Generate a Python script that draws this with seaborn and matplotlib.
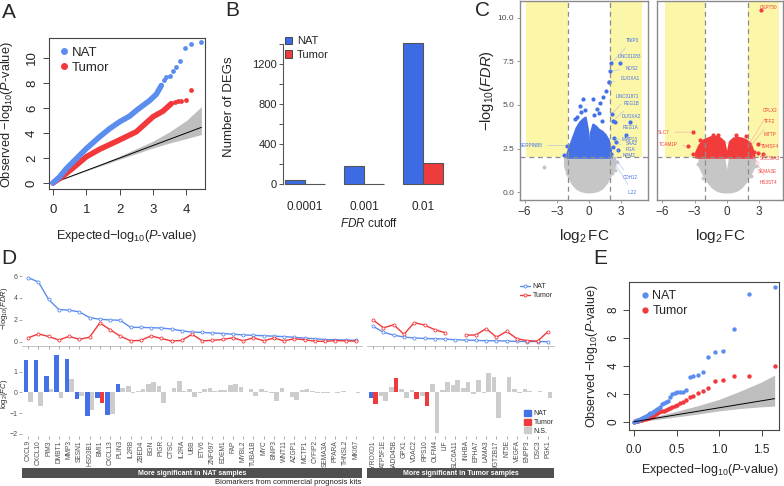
import numpy as np
import pandas as pd
import seaborn as sns
import matplotlib.pyplot as plt
from matplotlib.lines import Line2D
from matplotlib.patches import Patch

# ---------------- data ----------------
# A: genome-wide QQ (dense part of each curve + sparse tail points)
qa_nat_x = [0, 0.2, 0.4, 0.7, 1.0, 1.4, 1.7, 2.0, 2.3, 2.5, 2.7, 2.9, 3.1, 3.25]
qa_nat_y = [0, 0.5, 1.15, 1.95, 2.75, 3.7, 4.35, 4.9, 5.35, 5.8, 6.2, 6.6, 7.1, 7.8]
qa_nat_tail_x = [3.33, 3.4, 3.5, 3.6, 3.7, 3.8, 3.95, 4.13, 4.43]
qa_nat_tail_y = [8.2, 8.45, 8.56, 8.99, 9.31, 9.76, 10.77, 11.12, 11.28]
qa_tum_x = [0, 0.3, 0.6, 1.0, 1.4, 1.8, 2.0, 2.5, 3.0, 3.3, 3.55]
qa_tum_y = [0, 0.55, 1.2, 2.1, 2.7, 3.2, 3.45, 4.1, 5.3, 5.75, 6.35]
qa_tum_tail_x = [3.65, 3.75, 3.85, 3.98, 4.13]
qa_tum_tail_y = [6.45, 6.52, 6.57, 6.62, 7.41]
qa_band_x = [0, 1, 2, 3, 3.5, 4, 4.45]
qa_band_lo = [0, 0.97, 1.9, 2.8, 3.2, 3.55, 3.88]
qa_band_hi = [0, 1.05, 2.15, 3.35, 4.1, 5.0, 6.1]

# B: number of DEGs
cutoffs = ['0.0001', '0.001', '0.01']
deg_nat = [37, 177, 1413]
deg_tumor = [2, 1, 213]

# C: volcano plots (dense cores as envelopes, plus individual points)
c_gray_l_x = [-2.3, -2.0, -1.6, -1.2, -0.8, -0.4, 0.0, 0.4, 0.8, 1.2, 1.6, 2.0, 2.4]
c_gray_l_lo = [1.5, 0.95, 0.5, 0.22, 0.08, 0.02, 0.0, 0.02, 0.08, 0.22, 0.5, 0.95, 1.5]
c_gray_l_hi = [2.0, 2.0, 2.0, 2.0, 2.0, 2.0, 2.0, 2.0, 2.0, 2.0, 2.0, 2.0, 2.0]
c_blue_neg_x = [-2.05, -1.8, -1.5, -1.2, -0.9, -0.6, -0.35, -0.12, -0.03]
c_blue_neg_hi = [2.25, 2.7, 3.2, 3.7, 4.0, 4.2, 4.3, 3.5, 2.7]
c_blue_pos_x = [0.03, 0.12, 0.35, 0.6, 0.9, 1.2, 1.5, 1.8, 2.0]
c_blue_pos_hi = [2.7, 3.4, 3.9, 3.8, 3.6, 3.5, 3.3, 3.0, 2.4]
c_blue_pts_x = [-0.59, 0.34, 1.02, 1.57, 1.33, 0.77, 0.96, -0.84, -1.09, -0.34, -1.3, 0.5,
                -1.76, -1.6, 1.2, -0.7, -2.3, 2.2, 1.88]
c_blue_pts_y = [5.36, 5.32, 5.13, 5.82, 5.44, 4.75, 4.52, 4.94, 4.33, 4.7, 4.2, 4.4,
                2.24, 2.15, 4.1, 4.6, 2.1, 2.6, 6.3]
c_gray_l_pts_x = [-4.2, -2.08, -1.61, 2.12, 2.43, 2.6]
c_gray_l_pts_y = [1.45, 1.12, 0.74, 1.12, 1.27, 1.7]
c_nat_genes = ['TNIP3', 'LINC01283', 'NOS2', 'DUOXA1', 'LINC01871', 'REG1B', 'DUOXA2',
               'REG1A', 'MMP13', 'SAA2', 'FGA', 'NPM2', 'CDH12', 'IL22', 'SERPINB8']
c_nat_fc = [2.09, 2.93, 1.96, 1.88, 2.1, 2.25, 2.45, 3.8, 3.4, 2.3, 2.55, 2.7, 2.05, 1.95, -2.07]
c_nat_fdr = [7.4, 7.4, 6.95, 6.3, 4.45, 4.1, 4.0, 4.0, 3.3, 3.1, 2.85, 2.4, 2.2, 2.1, 2.66]
c_nat_lab_x = [4.06, 3.8, 3.96, 3.8, 3.6, 3.96, 3.96, 3.9, 3.8, 4.0, 3.9, 3.7, 3.8, 4.06, -5.4]
c_nat_lab_y = [8.7, 7.75, 7.08, 6.5, 5.47, 5.05, 4.33, 3.7, 3.0, 2.8, 2.44, 2.1, 0.83, 0.0, 2.66]

c_gray_r_neg_x = [-2.6, -2.2, -1.8, -1.4, -1.0, -0.6, -0.25, -0.05]
c_gray_r_neg_lo = [1.5, 1.0, 0.6, 0.3, 0.12, 0.03, 0.0, 0.0]
c_gray_r_neg_hi = [2.0, 2.0, 2.0, 2.0, 2.0, 2.0, 2.0, 1.2]
c_gray_r_pos_x = [0.05, 0.25, 0.6, 1.0, 1.4, 1.8, 2.2, 2.6]
c_gray_r_pos_lo = [0.0, 0.0, 0.03, 0.12, 0.3, 0.6, 1.0, 1.5]
c_gray_r_pos_hi = [1.2, 2.0, 2.0, 2.0, 2.0, 2.0, 2.0, 2.0]
c_red_neg_x = [-2.9, -2.6, -2.2, -1.8, -1.4, -1.0, -0.6, -0.25, -0.05]
c_red_neg_hi = [2.3, 2.7, 3.0, 3.1, 3.2, 3.2, 3.1, 2.9, 2.25]
c_red_pos_x = [0.05, 0.25, 0.6, 1.0, 1.4, 1.8, 2.2, 2.5]
c_red_pos_hi = [2.25, 2.9, 3.1, 3.15, 3.1, 3.0, 2.8, 2.3]
c_red_pts_x = [-3.1, -2.5, -1.3, 1.8, 2.6, -0.8, 0.9]
c_red_pts_y = [2.2, 3.0, 3.3, 3.2, 2.3, 3.25, 3.25]
c_gray_r_pts_x = [-2.7, 2.7, -2.2, 2.3]
c_gray_r_pts_y = [1.6, 1.5, 0.8, 0.9]
c_tum_genes = ['CKPT50', 'SLC7', 'TCAM1P', 'CPLX2', 'TFF2', 'MTTP', 'TM4SF4', 'SLC38A3',
               'SEMA3E', 'HS3ST4']
c_tum_fc = [3.18, -3.18, -3.59, 2.1, 2.2, 2.96, 2.96, 3.37, 2.3, 2.45]
c_tum_fdr = [10.45, 3.44, 2.63, 2.75, 2.6, 2.78, 2.25, 2.21, 2.1, 2.05]
c_tum_lab_x = [3.95, -5.9, -5.5, 4.05, 4.05, 4.05, 4.05, 4.05, 3.8, 3.95]
c_tum_lab_y = [10.6, 3.44, 2.75, 4.68, 4.03, 3.29, 2.63, 1.91, 1.21, 0.55]

# D: biomarkers
nat_genes = ['CXCL9', 'CXCL10', 'PIM3', 'DMBT1', 'MMP3', 'SESN1', 'HSD3B1', 'BMI1', 'CXCL13',
             'PLIN3', 'IL2RB', 'ZBED4', 'BGN', 'PIGR', 'CTSC', 'IL2RA', 'UBB', 'ETV6', 'ZNF697',
             'EDEM1', 'FAP', 'MYBL2', 'TUBA1B', 'MYC', 'BNIP3', 'WNT11', 'AZGP1', 'MCTP1',
             'CYFIP2', 'SEMA3A', 'PPARA', 'THNSL2', 'MKI67']
nat_fdr_nat = [5.85, 5.46, 3.86, 2.94, 2.88, 2.73, 2.2, 2.05, 1.99, 1.96, 1.31, 1.31, 1.28, 1.25,
               1.16, 1.0, 0.88, 0.85, 0.8, 0.75, 0.69, 0.62, 0.58, 0.55, 0.5, 0.47, 0.4, 0.33,
               0.28, 0.2, 0.18, 0.16, 0.13]
nat_fdr_tum = [0.36, 0.71, 0.48, 0.15, 0.5, 0.21, 0.42, 1.72, 1.1, 0.5, 0.09, 0.12, 0.53, 0.3,
               0.06, 0.12, 0.68, 0.09, 0.12, 0.21, 0.36, 0.09, 0.36, 0.09, 0.33, 0.09, 0.27,
               0.18, 0.05, 0.03, 0.1, 0.08, 0.05]
nat_fc_nat = [1.55, 1.55, 0.79, 1.78, 1.6, -0.34, -1.12, -0.29, -1.09, 0.38, 0.3, 0.05, 0.38,
              0.3, 0.02, 0.54, 0.16, -0.05, 0.19, 0.11, 0.34, 0.27, 0.16, 0.14, -0.02, 0.19,
              -0.21, 0.11, 0.05, -0.03, 0.02, 0.08, 0.02]
nat_fc_tum = [-0.45, -0.64, 0.18, -0.29, 0.66, -0.16, -0.85, -0.5, -1.06, 0.19, -0.05, 0.17,
              0.48, -0.53, 0.19, 0.08, -0.21, 0.14, 0.05, 0.11, 0.38, 0.02, -0.16, 0.06, -0.4,
              0.0, -0.37, 0.16, -0.03, -0.02, -0.03, 0.03, -0.02]
nat_sig_nat = [True] * 10 + [False] * 23
nat_sig_tum = [False] * 7 + [True] + [False] * 25

tum_genes = ['PYROXD1', 'ATP5F1E', 'GADD45B', 'GPX1', 'VDAC2', 'RPS10', 'OLFM4', 'LIF',
             'SLC6A11', 'INHBA', 'EPHA7', 'LAMA3', 'UGT2B17', 'NT5E', 'VEGFA', 'ENPP3', 'DSC3',
             'PGK1']
tum_fdr_nat = [1.4, 0.87, 0.6, 0.43, 0.34, 0.3, 0.27, 0.24, 0.18, 0.15, 0.12, 0.09, 0.09, 0.06,
               0.03, 0.02, 0.02, 0.0]
tum_fdr_tum = [1.99, 1.27, 1.55, 0.68, 1.75, 1.52, 1.1, 0.83, np.nan, 0.6, 0.62, 1.2, 0.41,
               0.95, 0.27, 0.1, 0.05, 0.92]
tum_fc_nat = [-0.26, -0.16, 0.26, 0.14, 0.1, -0.16, 0.4, 0.1, 0.34, 0.19, -0.08, -0.05, 0.72,
              0.03, 0.16, 0.14, 0.03, 0.0]
tum_fc_tum = [-0.55, -0.4, 0.69, -0.27, -0.34, -0.64, -1.97, 0.5, 0.59, 0.51, 0.59, 0.91, -1.25,
              0.72, -0.03, 0.06, 0.08, -0.29]
tum_sig_nat = [True] + [False] * 17
tum_sig_tum = [True, False, True, False, True, True] + [False] * 12

# E: QQ of biomarker genes
qe_x = [1.653, 1.352, 1.176, 1.051, 0.954, 0.875, 0.808, 0.750, 0.699, 0.653, 0.612, 0.574,
        0.540, 0.508, 0.477, 0.449, 0.423, 0.398, 0.374, 0.352, 0.331, 0.311, 0.292, 0.273,
        0.255, 0.238, 0.222, 0.206, 0.191, 0.176, 0.162, 0.148, 0.135, 0.121, 0.109, 0.097,
        0.085, 0.073, 0.062, 0.051, 0.040, 0.030, 0.020, 0.010, 0.000]
qe_nat = [9.62, 9.12, 6.66, 5.08, 4.96, 4.65, 3.56, 3.32, 3.29, 3.17, 2.27, 2.12, 2.10, 2.10,
          2.08, 1.98, 1.75, 1.5, 1.38, 1.31, 1.26, 1.07, 0.95, 0.88, 0.84, 0.76, 0.69, 0.64,
          0.60, 0.55, 0.50, 0.43, 0.38, 0.33, 0.29, 0.25, 0.21, 0.18, 0.15, 0.12, 0.09, 0.07,
          0.05, 0.03, 0.01]
qe_tum = [3.96, 3.29, 3.29, 2.96, 2.91, 2.39, 2.22, 2.08, 1.86, 1.79, 1.55, 1.43, 1.31, 1.19,
          1.15, 1.07, 0.98, 0.88, 0.81, 0.77, 0.76, 0.74, 0.69, 0.6, 0.52, 0.45, 0.41, 0.36,
          0.33, 0.3, 0.27, 0.24, 0.22, 0.2, 0.18, 0.16, 0.14, 0.12, 0.1, 0.08, 0.06, 0.04,
          0.03, 0.02, 0.01]
qe_band_x = [0, 0.25, 0.5, 0.75, 1.0, 1.25, 1.5, 1.653]
qe_band_lo = [0, 0.15, 0.35, 0.55, 0.78, 0.95, 1.07, 1.12]
qe_band_hi = [0.02, 0.38, 0.75, 1.15, 1.6, 2.2, 2.85, 3.34]

# ---------------- style ----------------
sns.set_theme(style='ticks')
plt.rcParams['font.family'] = ['Liberation Sans', 'DejaVu Sans']
plt.rcParams['mathtext.fontset'] = 'custom'
plt.rcParams['mathtext.rm'] = 'Liberation Sans'
plt.rcParams['mathtext.it'] = 'Liberation Sans:italic'
plt.rcParams['mathtext.bf'] = 'Liberation Sans:bold'

QQ_BLUE = '#5B8DEF'
QQ_RED = '#F2383A'
BAR_BLUE = '#3D6BE5'
BAR_RED = '#EE3B3B'
V_BLUE = '#4470E8'
V_RED = '#F23C3C'
V_GRAY = '#C6C6C6'
YELLOW = '#FBF6A8'
NS_GRAY = '#CCCCCC'

W, H = 784, 486
fig = plt.figure(figsize=(W / 100, H / 100), dpi=100)


def px_axes(x0, y0, x1, y1):
    return fig.add_axes([x0 / W, 1 - y1 / H, (x1 - x0) / W, (y1 - y0) / H])


def r_box(ax):
    for s in ax.spines.values():
        s.set_visible(True)
        s.set_color('#444444')
        s.set_linewidth(0.8)


for lab, (x, y) in zip('ABCDE', [(9, 13), (232, 11), (483, 11), (9, 259), (600, 258)]):
    fig.text(x / W, 1 - y / H, lab, fontsize=15, ha='center', va='center')

# ---------------- A ----------------
axA = px_axes(49, 38, 205, 189)
axA.fill_between(qa_band_x, qa_band_lo, qa_band_hi, color='#BEBEBE', lw=0)
axA.plot(qa_band_x, qa_band_x, color='black', lw=0.7)
sns.lineplot(x=qa_tum_x, y=qa_tum_y, ax=axA, color=QQ_RED, lw=4, estimator=None, sort=False)
sns.scatterplot(x=qa_tum_tail_x, y=qa_tum_tail_y, ax=axA, color=QQ_RED, s=12, linewidth=0)
sns.lineplot(x=qa_nat_x, y=qa_nat_y, ax=axA, color=QQ_BLUE, lw=4, estimator=None, sort=False)
sns.scatterplot(x=qa_nat_tail_x, y=qa_nat_tail_y, ax=axA, color=QQ_BLUE, s=12, linewidth=0)
axA.set_xlim(-0.12, 4.56)
axA.set_ylim(-0.48, 11.6)
axA.set_xticks([0, 1, 2, 3, 4])
axA.set_yticks([0, 2, 4, 6, 8, 10])
r_box(axA)
axA.tick_params(length=4, width=0.7, labelsize=9.5, color='#444444')
axA.tick_params(axis='x', pad=7)
axA.tick_params(axis='y', labelrotation=90, pad=4)
for t in axA.get_yticklabels():
    t.set_va('center')
axA.set_xlabel(r'Expected$-$log$_{10}$($\mathit{P}$-value)', fontsize=9.2)
axA.xaxis.set_label_coords(0.5, -0.26)
axA.set_ylabel(r'Observed $-$log$_{10}$($\mathit{P}$-value)', fontsize=9.2)
axA.yaxis.set_label_coords(-0.22, 0.49)
axA.legend(handles=[Line2D([], [], ls='', marker='o', ms=4, color=QQ_BLUE, label='NAT'),
                    Line2D([], [], ls='', marker='o', ms=4, color=QQ_RED, label='Tumor')],
           loc='upper left', bbox_to_anchor=(0.02, 0.98), frameon=False, fontsize=9.5,
           handletextpad=0.1, handlelength=1.0, labelspacing=0.25, borderaxespad=0)

# ---------------- B ----------------
axB = px_axes(283, 30, 455, 190)
df_b = pd.DataFrame({'cutoff': cutoffs * 2,
                     'group': ['NAT'] * 3 + ['Tumor'] * 3,
                     'n': deg_nat + deg_tumor})
sns.barplot(data=df_b, x='cutoff', y='n', hue='group', order=cutoffs, hue_order=['NAT', 'Tumor'],
            palette={'NAT': BAR_BLUE, 'Tumor': BAR_RED}, width=0.68, saturation=1,
            edgecolor='#555555', linewidth=0.8, legend=False, ax=axB)
axB.set_xlim(-0.373, 2.54)
axB.set_ylim(-60, 1540)
sns.despine(ax=axB, bottom=True)
axB.spines['left'].set_bounds(0, 1400)
axB.spines['left'].set_color('#555555')
axB.spines['left'].set_linewidth(0.8)
axB.set_yticks([0, 400, 800, 1200])
axB.set_yticks([200, 600, 1000, 1400], minor=True)
axB.tick_params(axis='y', which='both', length=3, width=0.7, labelsize=8, pad=1.5, color='#555555')
axB.tick_params(axis='x', length=0, labelsize=8.5, pad=8)
axB.set_xlabel(r'$\mathit{FDR}$ cutoff', fontsize=8.5)
axB.xaxis.set_label_coords(0.5, -0.17)
axB.set_ylabel('Number of DEGs', fontsize=9.5)
axB.yaxis.set_label_coords(-0.28, 0.52)
axB.legend(handles=[Patch(facecolor=BAR_BLUE, edgecolor='#333333', lw=0.6, label='NAT'),
                    Patch(facecolor=BAR_RED, edgecolor='#333333', lw=0.6, label='Tumor')],
           loc='upper left', bbox_to_anchor=(0.01, 0.96), frameon=False, fontsize=8,
           handlelength=0.7, handleheight=0.7, handletextpad=0.4, labelspacing=0.3,
           borderaxespad=0, borderpad=0)

# ---------------- C ----------------
FC_CUT, FDR_CUT = 2, 2


def volcano_base(ax, xlim, xspan):
    ax.set_xlim(*xlim)
    ax.set_ylim(-0.45, 10.95)
    ax.fill_between([xspan[0], -FC_CUT], FDR_CUT, 12, color=YELLOW, lw=0, zorder=0)
    ax.fill_between([FC_CUT, xspan[1]], FDR_CUT, 12, color=YELLOW, lw=0, zorder=0)
    for v in (-FC_CUT, FC_CUT):
        ax.axvline(v, color='#8C8C8C', ls=(0, (4, 3)), lw=0.9, zorder=5)
    ax.axhline(FDR_CUT, color='#8C8C8C', ls=(0, (4, 3)), lw=0.9, zorder=5)
    for s in ax.spines.values():
        s.set_visible(True)
        s.set_color('#8A8A8A')
        s.set_linewidth(1.0)
    ax.set_xticks([-6, -3, 0, 3])
    ax.tick_params(axis='x', length=2.5, width=0.6, color='#8A8A8A', labelsize=8.5,
                   labelcolor='#333333', pad=2)
    ax.set_xlabel(r'log$_2\,$FC', fontsize=11)
    ax.xaxis.set_label_coords(0.5, -0.135)


def label_points(ax, names, px, py, lx, ly, color, lcolor):
    for n, a, b, c, d in zip(names, px, py, lx, ly):
        ax.annotate(n, xy=(a, b), xytext=(c, d), fontsize=3.3, color=color,
                    ha='center', va='center', zorder=7,
                    arrowprops=dict(arrowstyle='-', color=lcolor, lw=0.35, shrinkA=1.5, shrinkB=1))


axCL = px_axes(520, 1, 648, 200)
volcano_base(axCL, (-6.42, 5.49), (-5.85, 4.95))
axCL.fill_between(c_gray_l_x, c_gray_l_lo, c_gray_l_hi, color=V_GRAY, lw=1.2, ec=V_GRAY, zorder=2)
sns.scatterplot(x=c_gray_l_pts_x, y=c_gray_l_pts_y, ax=axCL, color=V_GRAY, s=8, linewidth=0, zorder=2)
axCL.fill_between(c_blue_neg_x, FDR_CUT, c_blue_neg_hi, color=V_BLUE, lw=1.5, ec=V_BLUE, zorder=3)
axCL.fill_between(c_blue_pos_x, FDR_CUT, c_blue_pos_hi, color=V_BLUE, lw=1.5, ec=V_BLUE, zorder=3)
sns.scatterplot(x=c_blue_pts_x + c_nat_fc, y=c_blue_pts_y + c_nat_fdr, ax=axCL, color=V_BLUE,
                s=9, linewidth=0, zorder=4)
label_points(axCL, c_nat_genes, c_nat_fc, c_nat_fdr, c_nat_lab_x, c_nat_lab_y, V_BLUE, '#9DB4F2')
axCL.set_yticks([0, 2.5, 5, 7.5, 10])
axCL.set_yticklabels(['0.0', '2.5', '5.0', '7.5', '10.0'])
axCL.tick_params(axis='y', length=2.5, width=0.6, color='#8A8A8A', labelsize=6,
                 labelcolor='#4D4D4D', pad=1.5)
axCL.set_ylabel(r'$-$log$_{10}$($\mathit{FDR}$)', fontsize=10.5)
axCL.yaxis.set_label_coords(-0.19, 0.55)

axCR = px_axes(657, 1, 783, 200)
volcano_base(axCR, (-6.51, 5.27), (-5.8, 4.85))
axCR.fill_between(c_gray_r_neg_x, c_gray_r_neg_lo, c_gray_r_neg_hi, color=V_GRAY, lw=1.2,
                  ec=V_GRAY, zorder=2)
axCR.fill_between(c_gray_r_pos_x, c_gray_r_pos_lo, c_gray_r_pos_hi, color=V_GRAY, lw=1.2,
                  ec=V_GRAY, zorder=2)
sns.scatterplot(x=c_gray_r_pts_x, y=c_gray_r_pts_y, ax=axCR, color=V_GRAY, s=8, linewidth=0, zorder=2)
axCR.fill_between(c_red_neg_x, FDR_CUT, c_red_neg_hi, color=V_RED, lw=1.5, ec=V_RED, zorder=3)
axCR.fill_between(c_red_pos_x, FDR_CUT, c_red_pos_hi, color=V_RED, lw=1.5, ec=V_RED, zorder=3)
sns.scatterplot(x=c_red_pts_x + c_tum_fc, y=c_red_pts_y + c_tum_fdr, ax=axCR, color=V_RED,
                s=9, linewidth=0, zorder=4)
label_points(axCR, c_tum_genes, c_tum_fc, c_tum_fdr, c_tum_lab_x, c_tum_lab_y, V_RED, '#F5A0A0')
axCR.set_yticks([])

# ---------------- D ----------------
D_TOP = (270, 346)
D_BOT = (352, 436)
D_STRIP = (468, 478)
sections = [
    (22, 362, nat_genes, nat_fdr_nat, nat_fdr_tum, nat_fc_nat, nat_fc_tum, nat_sig_nat,
     nat_sig_tum, 'More significant in NAT samples', True),
    (367, 554, tum_genes, tum_fdr_nat, tum_fdr_tum, tum_fc_nat, tum_fc_tum, tum_sig_nat,
     tum_sig_tum, 'More significant in Tumor samples', False),
]
for (x0, x1, genes, f_nat, f_tum, fc_nat, fc_tum, s_nat, s_tum, strip, first) in sections:
    idx = np.arange(len(genes))
    xl = (-0.6, len(genes) - 0.4)

    axt = px_axes(x0, D_TOP[0], x1, D_TOP[1])
    axt.plot(idx, f_nat, color=QQ_BLUE, lw=1, marker='o', ms=2.2, mfc='white', mew=0.6)
    axt.plot(idx, f_tum, color=QQ_RED, lw=1, marker='o', ms=2.2, mfc='white', mew=0.6)
    axt.set_xlim(*xl)
    axt.set_ylim(-0.39, 6.55)
    axt.set_xticks(idx)
    axt.set_xticklabels([])
    for s in ['top', 'right', 'left']:
        axt.spines[s].set_visible(False)
    axt.spines['bottom'].set_color('#AAAAAA')
    axt.spines['bottom'].set_linewidth(0.5)
    axt.tick_params(axis='x', length=2, width=0.5, color='#888888')

    axb = px_axes(x0, D_BOT[0], x1, D_BOT[1])
    axb.bar(idx - 0.225, fc_nat, width=0.45,
            color=[V_BLUE if s else NS_GRAY for s in s_nat], lw=0)
    axb.bar(idx + 0.225, fc_tum, width=0.45,
            color=[BAR_RED if s else NS_GRAY for s in s_tum], lw=0)
    axb.set_xlim(*xl)
    axb.set_ylim(-2.1, 1.94)
    axb.set_xticks(idx)
    axb.set_xticklabels(genes, rotation=90, fontsize=4.8, color='#4D4D4D', va='top')
    for s in axb.spines.values():
        s.set_visible(False)
    axb.tick_params(axis='x', length=2, width=0.5, color='#888888', pad=1)

    if first:
        axt.set_yticks([0, 2, 4, 6])
        axt.tick_params(axis='y', length=2, width=0.5, color='#888888', labelsize=5,
                        labelcolor='#4D4D4D', pad=1)
        axt.set_ylabel(r'$-$log$_{10}$($\mathit{FDR}$)', fontsize=5.5)
        axt.yaxis.set_label_coords(-0.036, 0.5)
        axb.set_yticks([-2, -1, 0, 1])
        axb.tick_params(axis='y', length=2, width=0.5, color='#888888', labelsize=5,
                        labelcolor='#4D4D4D', pad=1)
        axb.set_ylabel(r'log$_2$($\mathit{FC}$)', fontsize=5.5)
        axb.yaxis.set_label_coords(-0.036, 0.5)
    else:
        axt.set_yticks([])
        axb.set_yticks([])

    axs = px_axes(x0, D_STRIP[0], x1, D_STRIP[1])
    axs.set_facecolor('#505050')
    for s in axs.spines.values():
        s.set_visible(False)
    axs.set_xticks([])
    axs.set_yticks([])
    axs.text(0.5, 0.5, strip, color='white', fontsize=5, fontweight='bold',
             ha='center', va='center', transform=axs.transAxes)

fig.text(288 / W, 1 - 482 / H, 'Biomarkers from commercial prognosis kits', fontsize=5.5,
         ha='center', va='center', color='#222222')
fig.legend(handles=[Line2D([], [], color=QQ_BLUE, lw=1, marker='o', ms=2.2, mfc='white',
                           mew=0.6, label='NAT'),
                    Line2D([], [], color=QQ_RED, lw=1, marker='o', ms=2.2, mfc='white',
                           mew=0.6, label='Tumor')],
           loc='upper left', bbox_to_anchor=(520 / W, 1 - 283 / H), frameon=False, fontsize=5,
           handlelength=1.4, handletextpad=0.4, labelspacing=0.3, borderpad=0, borderaxespad=0)
fig.legend(handles=[Patch(color=V_BLUE, label='NAT'), Patch(color=BAR_RED, label='Tumor'),
                    Patch(color=NS_GRAY, label='N.S.')],
           loc='upper left', bbox_to_anchor=(524 / W, 1 - 410 / H), frameon=False, fontsize=5,
           handlelength=1.0, handleheight=1.0, handletextpad=0.4, labelspacing=0.15,
           borderpad=0, borderaxespad=0)

# ---------------- E ----------------
axE = px_axes(629, 282, 779, 430)
axE.fill_between(qe_band_x, qe_band_lo, qe_band_hi, color='#BEBEBE', lw=0)
axE.plot(qe_band_x, qe_band_x, color='black', lw=0.7)
sns.scatterplot(x=qe_x, y=qe_tum, ax=axE, color=QQ_RED, s=10, linewidth=0)
sns.scatterplot(x=qe_x, y=qe_nat, ax=axE, color=QQ_BLUE, s=10, linewidth=0)
axE.set_xlim(-0.059, 1.704)
axE.set_ylim(-0.59, 10.0)
axE.set_xticks([0, 0.5, 1.0, 1.5])
axE.set_xticklabels(['0.0', '0.5', '1.0', '1.5'])
axE.set_yticks([0, 2, 4, 6, 8])
r_box(axE)
axE.tick_params(length=4, width=0.7, labelsize=8.5, color='#444444')
axE.tick_params(axis='x', pad=6)
axE.tick_params(axis='y', labelrotation=90, pad=3)
for t in axE.get_yticklabels():
    t.set_va('center')
axE.set_xlabel(r'Expected$-$log$_{10}$($\mathit{P}$-value)', fontsize=9)
axE.xaxis.set_label_coords(0.54, -0.215)
axE.set_ylabel(r'Observed $-$log$_{10}$($\mathit{P}$-value)', fontsize=9)
axE.yaxis.set_label_coords(-0.195, 0.5)
axE.legend(handles=[Line2D([], [], ls='', marker='o', ms=3.5, color=QQ_BLUE, label='NAT'),
                    Line2D([], [], ls='', marker='o', ms=3.5, color=QQ_RED, label='Tumor')],
           loc='upper left', bbox_to_anchor=(0.03, 0.98), frameon=False, fontsize=9,
           handletextpad=0.1, handlelength=1.0, labelspacing=0.25, borderaxespad=0)

fig.savefig('out.png', dpi=100)
plt.close(fig)
